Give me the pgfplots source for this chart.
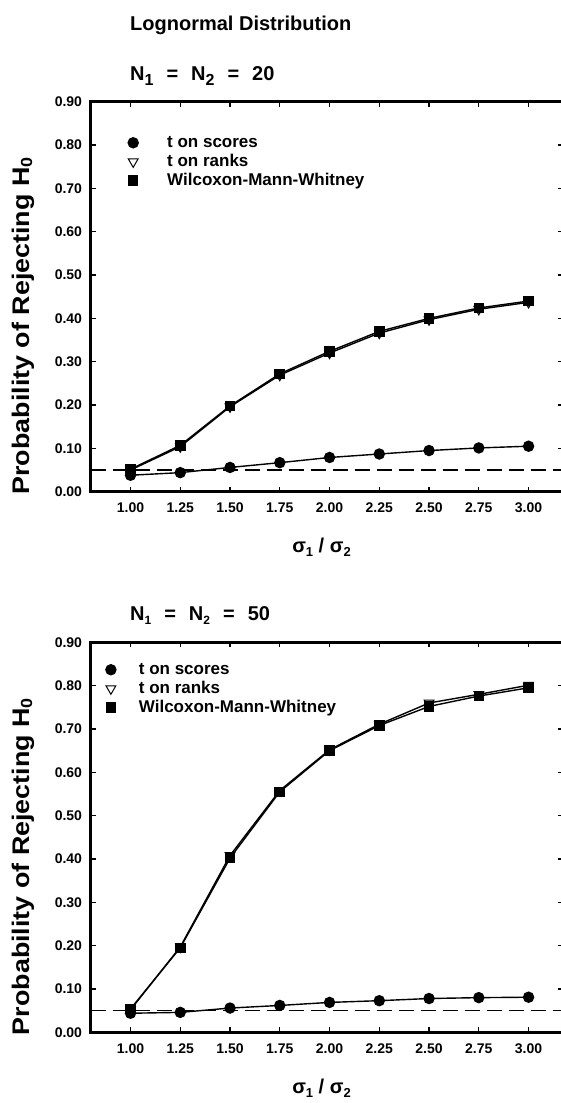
\documentclass[border=0pt]{standalone}
\usepackage{fontspec}
\setmainfont{Liberation Sans}
\usepackage{pgfplots}
\pgfplotsset{compat=1.18}

\pgfplotsset{
  panel/.style={
    axis x line=box, axis y line*=left,
    scale only axis, width=470.3pt, height=390pt, anchor=south west,
    xmin=0.8, xmax=3.163, ymin=0, ymax=0.9,
    xtick={1,1.25,...,3}, ytick={0,0.1,...,0.9},
    tick align=inside, major tick length=5pt,
    every tick/.style={black, line width=1.3pt},
    axis line style={line width=3pt, line cap=rect},
    /pgf/number format/assume math mode=true,
    /pgf/number format/.cd, fixed, fixed zerofill, precision=2, /pgfplots/.cd,
    ticklabel style={font=\fontsize{14}{14}\selectfont\bfseries},
    xticklabel style={anchor=north, inner sep=0pt, yshift=-11.3pt},
    yticklabel style={anchor=east, inner sep=0pt, xshift=-8.5pt},
    ylabel style={at={(axis description cs:-0.144,0.425)}, anchor=center,
      font=\fontsize{24}{24}\selectfont\bfseries},
    xlabel style={at={(axis description cs:0.4908,0)}, anchor=base,
      yshift=-60.8pt, font=\fontsize{20}{20}\selectfont\bfseries},
    ylabel={\scalebox{1.12}[1]{Probability of Rejecting H\raisebox{-3pt}{\fontsize{16}{16}\selectfont 0}}},
    xlabel={σ\raisebox{-4pt}{\fontsize{13}{13}\selectfont 1} / σ\raisebox{-4pt}{\fontsize{13}{13}\selectfont 2}},
    legend cell align=left,
    legend image code/.code={\draw[#1] plot coordinates {(0pt,0pt)};},
    legend style={draw=none, fill=none, inner sep=0pt, row sep=2pt,
      font=\fontsize{17}{17}\selectfont\bfseries,
      nodes={inner sep=0pt, text height=13pt, text depth=4pt},
      /tikz/every odd column/.append style={column sep=29pt}},
  },
  rightticks/.style={
    scale only axis, width=470.3pt, height=390pt, anchor=south west,
    xmin=0.8, xmax=3.163, ymin=0, ymax=0.9,
    ytick={0,0.1,...,0.9}, yticklabels={},
    axis x line=none, axis y line*=right,
    y axis line style={draw=none},
    tick align=inside, major tick length=3pt,
    every tick/.style={black, line width=1.3pt},
  },
  scores/.style={black, line width=1.4pt, mark=*, mark size=5pt},
  ranks/.style={black, line width=1.4pt, mark=triangle*, mark size=5.6pt,
    mark options={rotate=180, fill=white, line width=1pt}},
  wmw/.style={black, line width=1.4pt, mark=square*, mark size=4.6pt},
  alpha/.style={black, line width=1.3pt, dash pattern=on 15pt off 7pt},
}

\begin{document}
\begin{tikzpicture}
\useasboundingbox (0,0) rectangle (561pt,-1103pt);

\node[anchor=base west, inner sep=0pt, font=\fontsize{20}{20}\selectfont\bfseries]
  at (130pt,-30pt) {Lognormal Distribution};
\node[anchor=base west, inner sep=0pt, font=\fontsize{20}{20}\selectfont\bfseries]
  at (130pt,-80pt) {N\raisebox{-5pt}{\fontsize{16}{16}\selectfont 1}\hspace{13pt}=\hspace{13pt}N\raisebox{-5pt}{\fontsize{16}{16}\selectfont 2}\hspace{13pt}=\hspace{13pt}20};
\node[anchor=base west, inner sep=0pt, font=\fontsize{20}{20}\selectfont\bfseries]
  at (130pt,-620pt) {N\raisebox{-4pt}{\fontsize{12}{12}\selectfont 1}\hspace{13pt}=\hspace{13pt}N\raisebox{-4pt}{\fontsize{12}{12}\selectfont 2}\hspace{13pt}=\hspace{13pt}50};

% N1 = N2 = 20
\begin{axis}[panel, at={(90.7pt,-491.7pt)},
  legend style={at={(axis description cs:0.0793,0.917)}, anchor=north west}]
\addlegendimage{scores}
\addlegendentry{t on scores}
\addlegendimage{ranks}
\addlegendentry{t on ranks}
\addlegendimage{wmw}
\addlegendentry{Wilcoxon-Mann-Whitney}
\addplot[alpha, forget plot] coordinates {(0.8,0.05) (3.163,0.05)};
\addplot[scores, forget plot] coordinates {
  (1.00,0.038) (1.25,0.044) (1.50,0.056) (1.75,0.067) (2.00,0.079)
  (2.25,0.087) (2.50,0.095) (2.75,0.101) (3.00,0.105)};
\addplot[ranks, forget plot] coordinates {
  (1.00,0.050) (1.25,0.104) (1.50,0.196) (1.75,0.269) (2.00,0.320)
  (2.25,0.366) (2.50,0.397) (2.75,0.421) (3.00,0.437)};
\addplot[wmw, forget plot] coordinates {
  (1.00,0.052) (1.25,0.107) (1.50,0.198) (1.75,0.272) (2.00,0.324)
  (2.25,0.370) (2.50,0.400) (2.75,0.424) (3.00,0.440)};
\end{axis}
\begin{axis}[rightticks, at={(90.7pt,-491.7pt)}]
\end{axis}

% N1 = N2 = 50
\begin{axis}[panel, at={(90.7pt,-1032.3pt)},
  legend style={at={(axis description cs:0.0319,0.952)}, anchor=north west,
    /tikz/every odd column/.append style={column sep=23pt}}]
\addlegendimage{scores}
\addlegendentry{t on scores}
\addlegendimage{ranks}
\addlegendentry{t on ranks}
\addlegendimage{wmw}
\addlegendentry{Wilcoxon-Mann-Whitney}
\addplot[alpha, forget plot] coordinates {(0.8,0.05) (3.163,0.05)};
\addplot[scores, forget plot] coordinates {
  (1.00,0.044) (1.25,0.046) (1.50,0.056) (1.75,0.062) (2.00,0.069)
  (2.25,0.073) (2.50,0.078) (2.75,0.080) (3.00,0.081)};
\addplot[ranks, forget plot] coordinates {
  (1.00,0.052) (1.25,0.197) (1.50,0.408) (1.75,0.558) (2.00,0.652)
  (2.25,0.711) (2.50,0.760) (2.75,0.780) (3.00,0.801)};
\addplot[wmw, forget plot] coordinates {
  (1.00,0.054) (1.25,0.195) (1.50,0.402) (1.75,0.555) (2.00,0.650)
  (2.25,0.708) (2.50,0.752) (2.75,0.776) (3.00,0.795)};
\end{axis}
\begin{axis}[rightticks, at={(90.7pt,-1032.3pt)}]
\end{axis}
\end{tikzpicture}
\end{document}
